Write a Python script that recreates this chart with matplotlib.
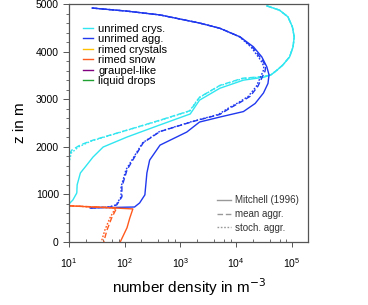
import numpy as np
import matplotlib.pyplot as plt
from matplotlib.ticker import LogLocator, MultipleLocator, NullFormatter

plt.rcParams['font.family'] = ['Liberation Sans', 'DejaVu Sans']

# number densities (m^-3), with their heights (m)
# unrimed crystals
crys_z_mit = [4960, 4870, 4730, 4520, 4310, 4100, 3890, 3720, 3610, 3510, 3460, 3400, 3230,
              2980, 2690, 2460, 2205, 1995, 1785, 1575, 1450, 1200, 1030, 880, 800, 740]
crys_n_mit = [35500, 60000, 85000, 102000, 110000, 105000, 91000, 69000, 54000, 42000, 31000,
              13500, 5100, 2200, 1500, 430, 110, 41, 27, 19.5, 16, 14, 13.8, 11.7, 10, 6]
crys_z_mean = [4960, 4870, 4730, 4520, 4310, 4100, 3890, 3720, 3610, 3510, 3475, 3440, 3290,
               3040, 2760, 2560, 2350, 2140, 2040, 1930, 1870, 1800]
crys_n_mean = [35500, 60000, 85000, 102000, 110000, 105000, 91000, 69000, 54000, 42000, 30000,
               13000, 5100, 2200, 1500, 430, 110, 27, 16, 11.2, 10.5, 9]
crys_z_stoch = [4960, 4870, 4730, 4520, 4310, 4100, 3890, 3720, 3610, 3510, 3470, 3430, 3280,
                3030, 2750, 2550, 2340, 2120, 2000, 1870, 1730, 1650]
crys_n_stoch = [35500, 60000, 85000, 102000, 110000, 105000, 91000, 69000, 54000, 42000, 29000,
                13000, 5000, 2150, 1450, 420, 105, 25, 15, 11, 10.3, 9]

# unrimed aggregates
agg_z_mit = [4915, 4850, 4770, 4600, 4490, 4310, 4100, 3890, 3680, 3510, 3330, 3130, 2910, 2740,
             2625, 2520, 2310, 2035, 1720, 1450, 990, 820, 735, 715]
agg_n_mit = [26, 110, 430, 2200, 5100, 11700, 20400, 28800, 35500, 38900, 37200, 30900, 21900,
             13500, 5100, 2200, 1300, 430, 280, 250, 230, 185, 150, 24]
agg_z_mean = [4915, 4850, 4770, 4600, 4490, 4310, 4095, 3820, 3690, 3590, 3270, 3060, 2930,
              2815, 2680, 2530, 2320, 2085, 1725, 1515, 1160, 950, 780, 735, 715]
agg_n_mean = [26, 110, 430, 2200, 5100, 11700, 19500, 29500, 34000, 33000, 24500, 17800, 11700,
              7800, 5100, 1660, 430, 215, 140, 110, 89, 89, 72, 55, 24]
agg_z_stoch = agg_z_mean
agg_n_stoch = [26, 110, 430, 2200, 5100, 11500, 18500, 27500, 31500, 30500, 23000, 16500, 11000,
               7300, 4800, 1600, 420, 210, 135, 105, 86, 86, 70, 52, 24]

# rimed snow
snow_z_mit = [775, 760, 695, 500, 300, 120, 0]
snow_n_mit = [5, 10, 140, 123, 110, 93, 83]
snow_z_mean = [775, 760, 718, 500, 250, 0]
snow_n_mean = [5, 10, 72, 58, 48, 42]
snow_z_stoch = [775, 760, 712, 500, 250, 0]
snow_n_stoch = [5, 10, 68, 54, 44, 38]

categories = ['unrimed crys.', 'unrimed agg.', 'rimed crystals', 'rimed snow',
              'graupel-like', 'liquid drops']
colors = ['#30e6f0', '#2038ee', '#ffc000', '#ff5a1e', '#800080', '#20a030']
schemes = ['Mitchell (1996)', 'mean aggr.', 'stoch. aggr.']
styles = ['-', (0, (4, 2)), (0, (1.2, 1.2))]

fig = plt.figure(figsize=(3.68, 3.05), dpi=100)
ax = fig.add_axes([0.1875, 0.2066, 0.6505, 0.7803])

series = {
    0: [(crys_n_mit, crys_z_mit), (crys_n_mean, crys_z_mean), (crys_n_stoch, crys_z_stoch)],
    1: [(agg_n_mit, agg_z_mit), (agg_n_mean, agg_z_mean), (agg_n_stoch, agg_z_stoch)],
    3: [(snow_n_mit, snow_z_mit), (snow_n_mean, snow_z_mean), (snow_n_stoch, snow_z_stoch)],
}

handles = []
for i, cat in enumerate(categories):
    h, = ax.plot([], [], color=colors[i], lw=1.0, label=cat)
    handles.append(h)
    for (n, z), ls in zip(series.get(i, []), styles):
        ax.plot(n, z, color=colors[i], lw=1.0, linestyle=ls)

ax.set_xscale('log')
ax.set_xlim(10, 10 ** 5.296)
ax.set_ylim(0, 5000)
ax.yaxis.set_major_locator(MultipleLocator(1000))
ax.yaxis.set_minor_locator(MultipleLocator(200))
ax.xaxis.set_major_locator(LogLocator(base=10, numticks=10))
ax.xaxis.set_minor_locator(LogLocator(base=10, subs=(2, 4, 6, 8), numticks=10))
ax.xaxis.set_minor_formatter(NullFormatter())

for sp in ax.spines.values():
    sp.set_color('#555555')
    sp.set_linewidth(0.9)

ax.tick_params(axis='y', which='major', direction='out', length=4.3, width=0.7,
               color='#555555', labelsize=7.5, pad=3)
ax.tick_params(axis='y', which='minor', direction='out', length=2.5, width=0.6, color='#555555')
ax.tick_params(axis='x', which='major', direction='out', length=3.5, width=0.7,
               color='#555555', labelsize=7.5, pad=7)
ax.tick_params(axis='x', which='minor', direction='in', length=2.5, width=0.6, color='#555555')

ax.set_xlabel('number density in m$^{\\mathsf{-3}}$', fontsize=11, labelpad=4)
ax.set_ylabel('z in m', fontsize=11, labelpad=6)

leg1 = ax.legend(handles=handles, loc='upper left', bbox_to_anchor=(0.058, 0.918),
                 frameon=False, fontsize=8, handlelength=0.9, handletextpad=0.5,
                 labelspacing=0.05, borderpad=0, borderaxespad=0)
ax.add_artist(leg1)

scheme_handles = [ax.plot([], [], color='#999999', lw=1.0, linestyle=ls)[0] for ls in styles]
ax.legend(scheme_handles, schemes, loc='upper left', bbox_to_anchor=(0.618, 0.197),
          frameon=False, fontsize=7, handlelength=1.4, handletextpad=0.5,
          labelspacing=0.4, borderpad=0, borderaxespad=0, labelcolor='#333333')

fig.savefig('out.png', dpi=100)
